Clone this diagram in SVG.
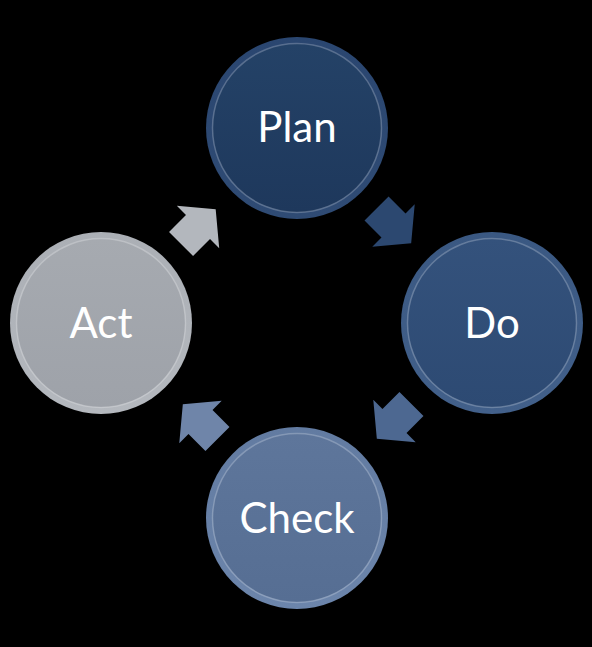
<svg xmlns="http://www.w3.org/2000/svg" width="592" height="647" viewBox="0 0 592 647">
<defs>
<linearGradient id="rimPlan" x1="0" y1="0" x2="0" y2="1"><stop offset="0" stop-color="#2a4670"/><stop offset="1" stop-color="#2f4b74"/></linearGradient>
<linearGradient id="inPlan" x1="0" y1="0" x2="0" y2="1"><stop offset="0" stop-color="#244267"/><stop offset="1" stop-color="#1e385c"/></linearGradient>
<linearGradient id="rimDo" x1="0" y1="0" x2="0" y2="1"><stop offset="0" stop-color="#3a5882"/><stop offset="1" stop-color="#42608a"/></linearGradient>
<linearGradient id="inDo" x1="0" y1="0" x2="0" y2="1"><stop offset="0" stop-color="#34527c"/><stop offset="1" stop-color="#2d4a73"/></linearGradient>
<linearGradient id="rimCheck" x1="0" y1="0" x2="0" y2="1"><stop offset="0" stop-color="#627ba1"/><stop offset="1" stop-color="#6c85ab"/></linearGradient>
<linearGradient id="inCheck" x1="0" y1="0" x2="0" y2="1"><stop offset="0" stop-color="#5e769b"/><stop offset="1" stop-color="#566e93"/></linearGradient>
<linearGradient id="rimAct" x1="0" y1="0" x2="0" y2="1"><stop offset="0" stop-color="#abafb5"/><stop offset="1" stop-color="#b4b8be"/></linearGradient>
<linearGradient id="inAct" x1="0" y1="0" x2="0" y2="1"><stop offset="0" stop-color="#a6aab0"/><stop offset="1" stop-color="#9ea2a9"/></linearGradient>
<path id="arr" d="M-24,-17 L0,-17 L0,-30 L25,0 L0,30 L0,17 L-24,17 Z"/>
</defs>
<style>
.lbl{font-family:"Lato","Open Sans","Liberation Sans",sans-serif;font-size:42px;fill:#ffffff;text-anchor:middle}
.hl{fill:none;stroke:#ffffff;stroke-opacity:0.22;stroke-width:1.5}
</style>
<rect width="592" height="647" fill="#000000"/>
<g id="connectors">
<use href="#arr" transform="translate(198,227) rotate(-45)" fill="#b3b7bd"/>
<use href="#arr" transform="translate(393.5,225.5) rotate(45)" fill="#2c4870"/>
<use href="#arr" transform="translate(394.5,421) rotate(135)" fill="#4d6891"/>
<use href="#arr" transform="translate(200.5,422) rotate(-135)" fill="#6f85a9"/>
</g>
<g id="plan">
<circle cx="297" cy="128" r="91" fill="url(#rimPlan)"/>
<circle cx="297" cy="128" r="84" fill="url(#inPlan)"/>
<circle cx="297" cy="128" r="84.5" class="hl"/>
<text x="297" y="142" class="lbl">Plan</text>
</g>
<g id="do">
<circle cx="492" cy="323" r="91" fill="url(#rimDo)"/>
<circle cx="492" cy="323" r="84" fill="url(#inDo)"/>
<circle cx="492" cy="323" r="84.5" class="hl"/>
<text x="492" y="338" class="lbl">Do</text>
</g>
<g id="check">
<circle cx="297" cy="518" r="91" fill="url(#rimCheck)"/>
<circle cx="297" cy="518" r="84" fill="url(#inCheck)"/>
<circle cx="297" cy="518" r="84.5" class="hl"/>
<text x="297" y="533" class="lbl">Check</text>
</g>
<g id="act">
<circle cx="101" cy="323" r="91" fill="url(#rimAct)"/>
<circle cx="101" cy="323" r="84" fill="url(#inAct)"/>
<circle cx="101" cy="323" r="84.5" class="hl"/>
<text x="101" y="338" class="lbl">Act</text>
</g>
</svg>
